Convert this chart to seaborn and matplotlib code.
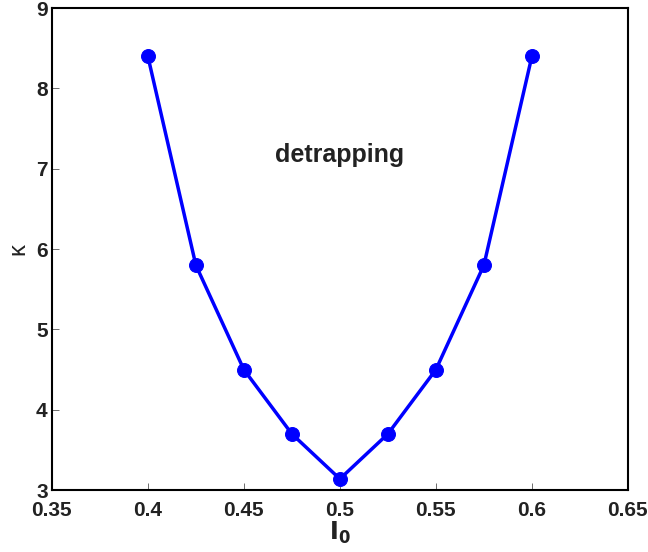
import matplotlib
matplotlib.use("Agg")
import matplotlib.pyplot as plt
import seaborn as sns
import pandas as pd

I0 = [0.4, 0.425, 0.45, 0.475, 0.5, 0.525, 0.55, 0.575, 0.6]
kappa = [8.4, 5.8, 4.5, 3.7, 3.14, 3.7, 4.5, 5.8, 8.4]
xticks = [0.35, 0.4, 0.45, 0.5, 0.55, 0.6, 0.65]
yticks = [3, 4, 5, 6, 7, 8, 9]

sns.set_theme(style="white")
plt.rcParams['font.family'] = ['Liberation Sans', 'DejaVu Sans']

df = pd.DataFrame({"I0": I0, "kappa": kappa})
fig = plt.figure(figsize=(6.48, 5.52), dpi=100)
ax = fig.add_axes([0.080, 0.112, 0.889, 0.8735])
sns.lineplot(data=df, x="I0", y="kappa", ax=ax, color="#0000ff", linewidth=2.5,
             marker="o", markersize=10, markeredgecolor="#0000ff", sort=False)
ax.set_xlim(0.35, 0.65)
ax.set_ylim(3, 9)
ax.set_xticks(xticks)
ax.set_xticklabels([f"{v:g}" for v in xticks])
ax.set_yticks(yticks)
ax.set_yticklabels([str(v) for v in yticks])
for lab in ax.get_xticklabels() + ax.get_yticklabels():
    lab.set_fontweight("bold")
    lab.set_fontsize(15)
    lab.set_color("#222222")
ax.tick_params(axis="x", pad=8)
ax.tick_params(axis="y", pad=3)
ax.tick_params(axis="both", direction="in", length=5, width=0.6, color="#555555",
               top=False, right=False, bottom=True, left=True)
for s in ax.spines.values():
    s.set_visible(True)
    s.set_color("black")
    s.set_linewidth(1.5)
ax.set_xlabel(r"$\mathbf{I_0}$", fontsize=17, labelpad=0, color="#222222")
ax.set_ylabel("κ", fontsize=17, labelpad=5, color="#222222")
ax.text(0.5, 7.17, "detrapping", ha="center", va="center", fontsize=18,
        fontweight="bold", color="#222222")
fig.savefig("out.png", dpi=100)
